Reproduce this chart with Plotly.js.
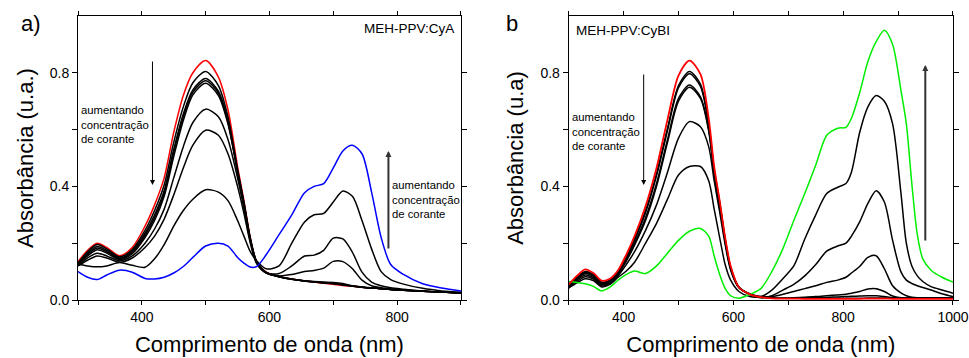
<!DOCTYPE html>
<html>
<head>
<meta charset="utf-8">
<script src="https://cdn.plot.ly/plotly-3.0.1.min.js"></script>
<style>
  html, body { margin: 0; padding: 0; background: #fff; }
  #chart { width: 969px; height: 358px; }
</style>
</head>
<body>
<div id="chart"></div>
<script>
// ---------- Panel a) MEH-PPV:CyA ----------
const wavelengthA = [300,315,330,345,365,385,405,420,435,450,465,480,500,520,535,550,560,570,580,595,615,635,655,670,685,700,715,730,745,760,775,790,810,840,870,900];
const cyaRed    = [0.135,0.175,0.200,0.185,0.156,0.185,0.260,0.335,0.430,0.590,0.720,0.800,0.843,0.785,0.670,0.470,0.350,0.220,0.135,0.098,0.083,0.074,0.067,0.063,0.059,0.055,0.051,0.048,0.045,0.042,0.040,0.037,0.034,0.031,0.028,0.025];
const cyaBlack1 = [0.130,0.170,0.195,0.180,0.152,0.178,0.245,0.315,0.405,0.555,0.680,0.765,0.805,0.755,0.645,0.460,0.345,0.218,0.135,0.097,0.082,0.073,0.067,0.063,0.060,0.057,0.053,0.048,0.045,0.042,0.040,0.037,0.034,0.031,0.028,0.025];
const cyaBlack2 = [0.128,0.165,0.188,0.175,0.148,0.172,0.235,0.300,0.385,0.530,0.655,0.740,0.780,0.735,0.630,0.455,0.340,0.215,0.134,0.096,0.082,0.074,0.068,0.065,0.063,0.062,0.058,0.050,0.046,0.043,0.040,0.037,0.034,0.031,0.028,0.025];
const cyaBlack3 = [0.125,0.160,0.183,0.170,0.145,0.168,0.228,0.290,0.375,0.520,0.645,0.732,0.772,0.728,0.625,0.452,0.338,0.213,0.133,0.096,0.082,0.073,0.067,0.064,0.061,0.059,0.055,0.049,0.045,0.042,0.040,0.037,0.034,0.031,0.028,0.025];
const cyaBlack4 = [0.122,0.155,0.177,0.165,0.142,0.163,0.220,0.280,0.365,0.505,0.632,0.722,0.763,0.720,0.620,0.450,0.336,0.212,0.132,0.096,0.082,0.073,0.067,0.064,0.061,0.058,0.054,0.049,0.045,0.042,0.040,0.037,0.034,0.031,0.028,0.025];
const cyaBlack5 = [0.120,0.148,0.165,0.155,0.138,0.155,0.200,0.250,0.320,0.430,0.540,0.625,0.672,0.645,0.565,0.430,0.322,0.207,0.130,0.095,0.085,0.090,0.100,0.104,0.112,0.136,0.135,0.110,0.070,0.050,0.043,0.039,0.035,0.031,0.028,0.025];
const cyaBlack6 = [0.120,0.140,0.155,0.148,0.133,0.148,0.185,0.225,0.285,0.370,0.465,0.545,0.598,0.580,0.515,0.400,0.305,0.200,0.128,0.095,0.093,0.120,0.155,0.158,0.175,0.218,0.215,0.168,0.098,0.063,0.050,0.043,0.038,0.032,0.028,0.026];
const cyaBlack7 = [0.126,0.120,0.117,0.120,0.132,0.122,0.115,0.145,0.195,0.260,0.315,0.355,0.388,0.380,0.350,0.280,0.225,0.170,0.138,0.110,0.120,0.200,0.275,0.300,0.305,0.345,0.384,0.365,0.280,0.180,0.100,0.072,0.056,0.041,0.032,0.027];
const cyaBlue   = [0.100,0.080,0.072,0.088,0.105,0.098,0.076,0.074,0.080,0.095,0.118,0.150,0.190,0.200,0.190,0.150,0.130,0.116,0.118,0.160,0.230,0.300,0.378,0.400,0.410,0.465,0.525,0.545,0.515,0.380,0.220,0.125,0.090,0.057,0.042,0.032];

// ---------- Panel b MEH-PPV:CyBI ----------
const wavelengthB = [300,315,330,345,360,375,390,405,420,440,460,480,500,520,540,555,565,575,585,595,610,630,650,670,690,710,730,750,770,790,805,815,830,845,860,875,890,905,915,925,935,945,960,980,1000];
const cybRed    = [0.055,0.085,0.108,0.095,0.068,0.075,0.105,0.160,0.225,0.330,0.465,0.635,0.790,0.843,0.795,0.640,0.470,0.350,0.220,0.120,0.045,0.020,0.010,0.006,0.005,0.005,0.004,0.004,0.004,0.004,0.004,0.004,0.004,0.005,0.005,0.005,0.004,0.004,0.004,0.004,0.004,0.004,0.004,0.004,0.004];
const cybBlack1 = [0.052,0.080,0.100,0.090,0.063,0.070,0.100,0.152,0.215,0.315,0.445,0.605,0.755,0.805,0.760,0.620,0.460,0.345,0.215,0.115,0.045,0.020,0.010,0.007,0.006,0.006,0.006,0.006,0.006,0.006,0.006,0.006,0.006,0.007,0.007,0.007,0.006,0.006,0.006,0.006,0.006,0.006,0.006,0.006,0.006];
const cybBlack2 = [0.050,0.077,0.097,0.087,0.060,0.067,0.097,0.148,0.210,0.307,0.437,0.597,0.748,0.797,0.752,0.615,0.455,0.340,0.212,0.113,0.045,0.020,0.010,0.007,0.006,0.006,0.007,0.008,0.009,0.011,0.012,0.013,0.014,0.015,0.015,0.012,0.008,0.007,0.006,0.006,0.006,0.006,0.006,0.006,0.006];
const cybBlack3 = [0.048,0.073,0.093,0.083,0.057,0.064,0.093,0.142,0.200,0.290,0.410,0.565,0.710,0.757,0.715,0.600,0.450,0.335,0.210,0.112,0.045,0.020,0.010,0.007,0.006,0.008,0.010,0.012,0.015,0.018,0.020,0.024,0.030,0.039,0.040,0.030,0.014,0.008,0.007,0.006,0.006,0.006,0.006,0.006,0.006];
const cybBlack4 = [0.046,0.070,0.088,0.079,0.054,0.061,0.090,0.137,0.193,0.280,0.400,0.555,0.700,0.749,0.710,0.595,0.445,0.330,0.205,0.110,0.045,0.022,0.012,0.012,0.020,0.030,0.040,0.050,0.062,0.070,0.080,0.095,0.118,0.150,0.156,0.110,0.050,0.025,0.015,0.010,0.008,0.008,0.007,0.007,0.007];
const cybBlack5 = [0.044,0.065,0.082,0.074,0.050,0.058,0.085,0.125,0.170,0.245,0.335,0.450,0.570,0.628,0.610,0.540,0.420,0.310,0.195,0.105,0.043,0.020,0.008,0.015,0.035,0.055,0.085,0.125,0.172,0.190,0.200,0.225,0.275,0.340,0.385,0.345,0.210,0.100,0.070,0.058,0.050,0.044,0.035,0.022,0.012];
const cybBlack6 = [0.042,0.060,0.075,0.068,0.046,0.055,0.080,0.102,0.133,0.200,0.270,0.355,0.440,0.470,0.470,0.420,0.320,0.220,0.125,0.070,0.030,0.012,0.012,0.035,0.075,0.120,0.215,0.300,0.375,0.397,0.410,0.450,0.590,0.680,0.720,0.700,0.620,0.380,0.200,0.120,0.085,0.065,0.047,0.035,0.024];
const cybGreen  = [0.065,0.062,0.057,0.048,0.032,0.045,0.070,0.090,0.102,0.093,0.120,0.165,0.210,0.242,0.252,0.225,0.155,0.090,0.041,0.015,0.006,0.020,0.040,0.100,0.180,0.280,0.375,0.475,0.580,0.605,0.608,0.640,0.730,0.840,0.910,0.950,0.900,0.740,0.620,0.410,0.230,0.145,0.105,0.080,0.063];

const ticksA = [300,400,500,600,700,800,900];
const tickTextA = ['','400','','600','','800',''];
const ticksB = [300,400,500,600,700,800,900,1000];
const tickTextB = ['','400','','600','','800','','1000'];
const ticksY = [0,0.2,0.4,0.6,0.8];
const tickTextY = ['0.0','','0.4','','0.8'];

const FONT = 'Liberation Sans, Arial, sans-serif';

function line(x, y, color, xa, ya, width) {
  return { x: x, y: y, xaxis: xa, yaxis: ya, type: 'scatter', mode: 'lines',
           line: { color: color, width: width || 1.5, shape: 'spline', smoothing: 0.8 },
           hoverinfo: 'skip', showlegend: false };
}

const traces = [
  line(wavelengthA, cyaRed, '#ff0000', 'x', 'y'),
  line(wavelengthA, cyaBlack1, '#000000', 'x', 'y'),
  line(wavelengthA, cyaBlack2, '#000000', 'x', 'y'),
  line(wavelengthA, cyaBlack3, '#000000', 'x', 'y'),
  line(wavelengthA, cyaBlack4, '#000000', 'x', 'y'),
  line(wavelengthA, cyaBlack5, '#000000', 'x', 'y'),
  line(wavelengthA, cyaBlack6, '#000000', 'x', 'y'),
  line(wavelengthA, cyaBlack7, '#000000', 'x', 'y'),
  line(wavelengthA, cyaBlue, '#0000ff', 'x', 'y'),
  line(wavelengthB, cybBlack1, '#000000', 'x2', 'y2'),
  line(wavelengthB, cybBlack2, '#000000', 'x2', 'y2'),
  line(wavelengthB, cybBlack3, '#000000', 'x2', 'y2'),
  line(wavelengthB, cybBlack4, '#000000', 'x2', 'y2'),
  line(wavelengthB, cybBlack5, '#000000', 'x2', 'y2'),
  line(wavelengthB, cybBlack6, '#000000', 'x2', 'y2'),
  line(wavelengthB, cybGreen, '#00ee00', 'x2', 'y2'),
  line(wavelengthB, cybRed, '#ff0000', 'x2', 'y2', 1.8)
];

// pixel -> paper helpers (plot area: x 77.5..952.7, y 16..300)
const L = 77.5, R = 952.7, T = 16, B = 300;
const px = v => (v - L) / (R - L);
const py = v => (B - v) / (B - T);

function axisX(domain, range, vals, text, anchor) {
  return {
    domain: domain, range: range, anchor: anchor,
    tickmode: 'array', tickvals: vals, ticktext: text,
    ticks: 'outside', ticklen: 4, tickwidth: 1, tickcolor: '#000',
    showline: true, linecolor: '#000', linewidth: 1, mirror: 'ticks',
    showgrid: false, zeroline: false,
    tickfont: { family: FONT, size: 14, color: '#000' },
    title: { text: 'Comprimento de onda (nm)', font: { family: FONT, size: 22, color: '#000' }, standoff: 12 }
  };
}
function axisY(anchor, title) {
  return {
    domain: [0, 1], range: [0, 1.0], anchor: anchor,
    tickmode: 'array', tickvals: ticksY, ticktext: tickTextY,
    ticks: 'outside', ticklen: 5, tickwidth: 1, tickcolor: '#000',
    showline: true, linecolor: '#000', linewidth: 1, mirror: 'ticks',
    showgrid: false, zeroline: false,
    tickfont: { family: FONT, size: 14, color: '#000' },
    title: { text: title, font: { family: FONT, size: 22, color: '#000' }, standoff: 10 }
  };
}

function txt(x, y, text, size, xanchor) {
  return { xref: 'paper', yref: 'paper', x: px(x), y: py(y), text: text, showarrow: false,
           xanchor: xanchor || 'left', yanchor: 'middle', align: 'left',
           font: { family: FONT, size: size, color: '#000' } };
}
function arrow(x, yHead, yTail, width, color, size) {
  return { xref: 'paper', yref: 'paper', x: px(x), y: py(yHead), ax: 0, ay: yTail - yHead,
           text: '', showarrow: true, arrowhead: 2, arrowsize: size, arrowwidth: width,
           arrowcolor: color, standoff: 0, startstandoff: 0 };
}

const conc = 'aumentando<br>concentração<br>de corante';

const layout = {
  width: 969, height: 358,
  margin: { l: L, r: 969 - R, t: T, b: 358 - B, pad: 0 },
  paper_bgcolor: '#fff', plot_bgcolor: '#fff',
  font: { family: FONT, color: '#000' },
  showlegend: false,
  xaxis: axisX([0, px(460.5)], [300, 900], ticksA, tickTextA, 'y'),
  yaxis: axisY('x', 'Absorbância (u.a.)'),
  xaxis2: axisX([px(568.3), 1], [300, 1000], ticksB, tickTextB, 'y2'),
  yaxis2: axisY('x2', 'Absorbância (u.a)'),
  annotations: [
    txt(18, 24, 'a)', 22),
    txt(504, 24, 'b', 22),
    txt(456, 28, 'MEH-PPV:CyA', 13.5, 'right'),
    txt(574, 30, 'MEH-PPV:CyBI', 13.5),
    txt(79, 124, conc, 11.3),
    txt(390, 199.5, conc, 11.3),
    txt(570, 131, conc, 11.3),
    arrow(152, 185, 60, 1, '#000', 1),
    arrow(388, 151, 250, 2, '#333', 0.6),
    arrow(643.3, 185, 73, 1, '#000', 1),
    arrow(925, 65, 242, 2, '#333', 0.6)
  ]
};

Plotly.newPlot('chart', traces, layout, { staticPlot: true, displayModeBar: false });
</script>
</body>
</html>
